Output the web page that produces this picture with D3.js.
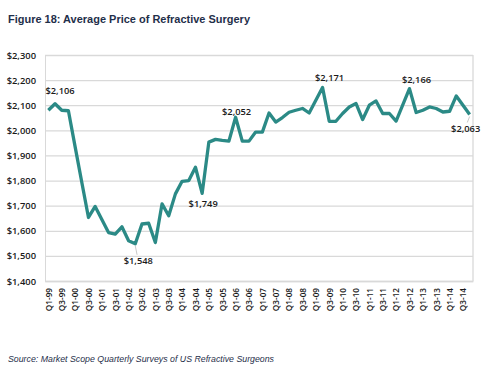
<!DOCTYPE html>
<html><head><meta charset="utf-8">
<script src="https://cdn.jsdelivr.net/npm/d3@7"></script>
<style>html,body{margin:0;padding:0;background:#fff}svg{display:block}</style>
</head><body>
<svg id="c" width="500" height="379"></svg>
<script>
const categories = ["Q1-99","Q2-99","Q3-99","Q4-99","Q1-00","Q2-00","Q3-00","Q4-00","Q1-01","Q2-01","Q3-01","Q4-01","Q1-02","Q2-02","Q3-02","Q4-02","Q1-03","Q2-03","Q3-03","Q4-03","Q1-04","Q2-04","Q3-04","Q4-04","Q1-05","Q2-05","Q3-05","Q4-05","Q1-06","Q2-06","Q3-06","Q4-06","Q1-07","Q2-07","Q3-07","Q4-07","Q1-08","Q2-08","Q3-08","Q4-08","Q1-09","Q2-09","Q3-09","Q4-09","Q1-10","Q2-10","Q3-10","Q4-10","Q1-11","Q2-11","Q3-11","Q4-11","Q1-12","Q2-12","Q3-12","Q4-12","Q1-13","Q2-13","Q3-13","Q4-13","Q1-14","Q2-14","Q3-14","Q4-14"];
const prices = [2080,2106,2080,2078,1935,1793,1653,1697,1645,1593,1587,1616,1560,1548,1627,1630,1553,1707,1660,1747,1797,1800,1853,1749,1953,1964,1960,1957,2052,1957,1957,1993,1993,2069,2033,2051,2072,2080,2087,2069,2120,2171,2036,2036,2067,2093,2107,2043,2100,2117,2067,2067,2037,2101,2166,2071,2080,2093,2087,2073,2076,2137,2100,2063];
const xTickLabels = ["Q1-99","Q3-99","Q1-00","Q3-00","Q1-01","Q3-01","Q1-02","Q3-02","Q1-03","Q3-03","Q1-04","Q3-04","Q1-05","Q3-05","Q1-06","Q3-06","Q1-07","Q3-07","Q1-08","Q3-08","Q1-09","Q3-09","Q1-10","Q3-10","Q1-11","Q3-11","Q1-12","Q3-12","Q1-13","Q3-13","Q1-14","Q3-14"];
const yTicks = [1400,1500,1600,1700,1800,1900,2000,2100,2200,2300];
const labelled = ["Q2-99","Q2-02","Q4-04","Q1-06","Q2-09","Q3-12","Q4-14"];
const title = "Figure 18: Average Price of Refractive Surgery";
const source = "Source: Market Scope Quarterly Surveys of US Refractive Surgeons";

const svg = d3.select("#c");
const L = 45, R = 473, T = 55, B = 281;
const x = d3.scalePoint().domain(categories).range([L, R]).padding(0.5);
const y = d3.scaleLinear().domain([1400, 2300]).range([B, T]);
const fmt = v => "$" + d3.format(",")(v);

svg.append("text").attr("x", 8).attr("y", 23).text(title)
  .attr("font-family", "Liberation Sans, Arial, sans-serif").attr("font-weight", "bold")
  .attr("font-size", 11.5).attr("fill", "#1f2f4a")
  .attr("textLength", 242).attr("lengthAdjust", "spacingAndGlyphs");

const yAxis = d3.axisLeft(y).tickValues(yTicks).tickSize(-(R - L)).tickFormat(fmt).tickPadding(9);
const gy = svg.append("g").attr("transform", `translate(${L},0)`).call(yAxis);
gy.select(".domain").attr("stroke", "#d9d9d9");
gy.selectAll(".tick line").attr("stroke", "#d9d9d9").attr("stroke-width", 1.3);
gy.selectAll(".tick text").attr("font-family", "Open Sans, sans-serif").attr("font-size", 9.4)
  .attr("font-weight", 600).attr("fill", "#1a1a1a");
svg.append("line").attr("x1", R).attr("x2", R).attr("y1", T).attr("y2", B).attr("stroke", "#d9d9d9").attr("stroke-width", 1.3);

const xAxis = d3.axisBottom(x).tickValues(xTickLabels).tickSize(0).tickPadding(0);
const gx = svg.append("g").attr("transform", `translate(0,${B})`).call(xAxis);
gx.select(".domain").attr("stroke", "#d9d9d9").attr("stroke-width", 1.3);
gx.selectAll(".tick text")
  .attr("transform", "rotate(-90)")
  .attr("text-anchor", "end").attr("x", -7).attr("y", 0).attr("dy", "0.35em")
  .attr("font-family", "Open Sans, sans-serif").attr("font-size", 8.2).attr("font-weight", 600).attr("fill", "#1a1a1a");

const line = d3.line().x((d, i) => x(categories[i])).y(d => y(d));
svg.append("path").datum(prices).attr("d", line).attr("fill", "none")
  .attr("stroke", "#2b8a86").attr("stroke-width", 3.3).attr("stroke-linejoin", "round");

const offsets = {"Q2-99":[5,-13],"Q2-02":[3,17],"Q4-04":[1,10],"Q1-06":[1,-6],"Q2-09":[7,-10],"Q3-12":[7,-9],"Q4-14":[-4,14]};
labelled.forEach(c => {
  const i = categories.indexOf(c);
  const px = x(c), py = y(prices[i]);
  const [dx, dy] = offsets[c];
  if (c === "Q2-02" || c === "Q4-14") {
    svg.append("line").attr("x1", px).attr("y1", py + 2).attr("x2", px + dx*0.6).attr("y2", py + dy - 6)
      .attr("stroke", "#bbb").attr("stroke-width", 0.8);
  }
  svg.append("text").attr("x", px + dx).attr("y", py + dy).attr("dy", "0.35em")
    .attr("text-anchor", "middle").text(fmt(prices[i]))
    .attr("font-family", "Open Sans, sans-serif").attr("font-size", 9.3).attr("font-weight", 600).attr("fill", "#1a1a1a");
});

svg.append("text").attr("x", 8).attr("y", 362).text(source)
  .attr("font-family", "Liberation Sans, Arial, sans-serif").attr("font-style", "italic")
  .attr("font-size", 8.5).attr("fill", "#1f2f4a")
  .attr("textLength", 266).attr("lengthAdjust", "spacingAndGlyphs");
</script>
</body></html>
